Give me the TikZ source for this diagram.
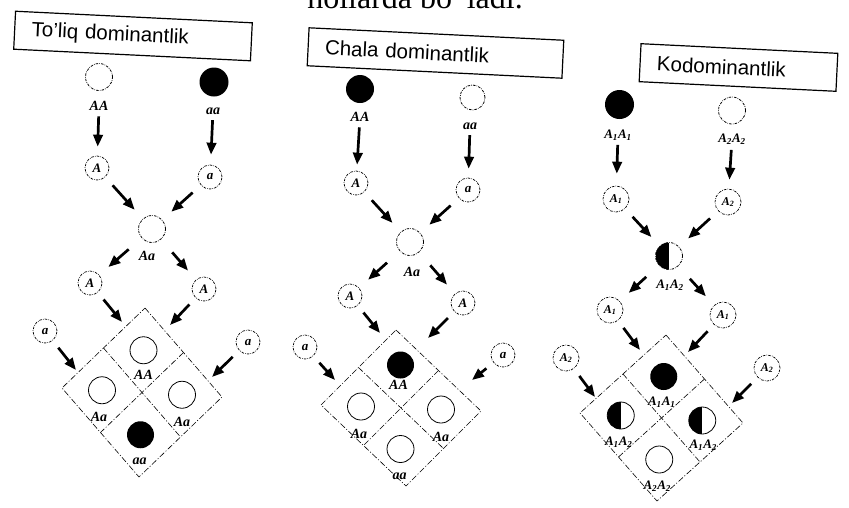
\documentclass[tikz,border=0pt]{standalone}
\usepackage{fontspec}
\setsansfont{Liberation Sans}
\newfontfamily\serifhead{Liberation Serif}
\usetikzlibrary{arrows.meta,calc}

\newcommand\sub[1]{\textsubscript{#1}}

\tikzset{
  headbox/.style={draw, line width=1.2pt, font=\sffamily\fontsize{20.5}{22}\selectfont,
    inner xsep=17pt, inner ysep=0pt, minimum height=38pt, align=left, rotate=-2.8},
  gfont/.style={font=\serifhead\bfseries\itshape\fontsize{#1}{#1}\selectfont},
  lbl/.style={gfont=14, inner sep=0.5pt},
  lbls/.style={gfont=13, inner sep=0.5pt},
  dotdash/.style={dash pattern=on 2.5pt off 1.2pt on 0.6pt off 1.2pt},
  gam/.style={circle, draw, line width=0.7pt, dotdash, minimum size=24pt, inner sep=0pt,
    gfont=13},
  gamw/.style={gam, minimum size=26pt, gfont=12},
  openp/.style={circle, draw, line width=0.8pt, dotdash, minimum size=27pt, inner sep=0pt},
  fullp/.style={circle, fill=black, minimum size=29pt, inner sep=0pt},
  cellopen/.style={circle, draw, line width=0.8pt, minimum size=27pt, inner sep=0pt},
  cellfull/.style={circle, fill=black, minimum size=27pt, inner sep=0pt},
  halfleft/.style={path picture={\fill[black] (path picture bounding box.north)
    rectangle (path picture bounding box.south west);}},
  cellhalf/.style={cellopen, halfleft},
  arr/.style={line width=2.7pt, -{Triangle[length=12pt,width=9.5pt]}},
  diagin/.style={shorten <=11pt, shorten >=12pt},
  diagout/.style={shorten <=17pt, shorten >=12pt},
  toedge/.style={shorten <=9pt},
  punnett/.style={line width=0.6pt, dash pattern=on 6pt off 2pt on 1pt off 2pt},
}

% 2x2 Punnett square drawn as a diamond: #1 name prefix, #2 top, #3 left, #4 right vertex
\newcommand\punnettsq[4]{%
  \coordinate (#1T) at #2;
  \coordinate (#1L) at #3;
  \coordinate (#1R) at #4;
  \coordinate (#1B) at ($(#1L)+(#1R)-(#1T)$);
  \draw[punnett] (#1T) -- (#1R) -- (#1B) -- (#1L) -- cycle;
  \draw[punnett] ($(#1T)!0.5!(#1L)$) -- ($(#1R)!0.5!(#1B)$);
  \draw[punnett] ($(#1T)!0.5!(#1R)$) -- ($(#1L)!0.5!(#1B)$);
  \coordinate (#1ct) at ($0.5*(#1T)+0.25*(#1L)+0.25*(#1R)$);
  \coordinate (#1cl) at ($0.5*(#1L)+0.25*(#1T)+0.25*(#1B)$);
  \coordinate (#1cr) at ($0.5*(#1R)+0.25*(#1T)+0.25*(#1B)$);
  \coordinate (#1cb) at ($0.5*(#1B)+0.25*(#1L)+0.25*(#1R)$);
}

\begin{document}
\begin{tikzpicture}[x=1pt,y=-1pt]
\useasboundingbox (0,0) rectangle (849,507);
\clip (0,0) rectangle (849,507);

% running text line above the figure (only its lower part lies on the page)
\node[anchor=base east, font=\serifhead\fontsize{32}{32}\selectfont, inner sep=0pt]
  (topline) at (523,8) {hollarda bo\kern4pt’ladi.};

% ---------------- To'liq dominantlik ----------------
\node[headbox, text width=203pt] (t1) at (133,36) {To'liq dominantlik};
\node[openp] (p1m) at (99,77) {};
\node[fullp] (p1f) at (214,82) {};
\node[lbl] (l1m) at (99,106) {AA};
\node[lbl] (l1f) at (213,111) {aa};
\node[gam] (g1a) at (97,168) {A};
\node[gam] (g1b) at (210,177) {a};
\node[openp] (f1) at (152,229) {};
\node[lbl] (l1h) at (147,256) {Aa};
\node[gam] (g1c) at (90,283) {A};
\node[gam] (g1d) at (204,289) {A};
\node[gam] (g1e) at (45,331) {a};
\node[gam] (g1g) at (248,342) {a};

\draw[arr, shorten <=5pt, shorten >=9pt] (l1m) -- (g1a);
\draw[arr, shorten <=5pt, shorten >=10pt] (l1f) -- (g1b);
\draw[arr, diagin] (g1a) -- (f1);
\draw[arr, diagin] (g1b) -- (f1);
\draw[arr, diagout] (f1) -- (g1c);
\draw[arr, diagout] (f1) -- (g1d);

\punnettsq{q1}{(145,308)}{(62,388)}{(222,397)}
\coordinate (q1a) at (122,322);
\coordinate (q1b) at (170,325);
\coordinate (q1c) at (76,370);
\coordinate (q1d) at (212,377);
\draw[arr, toedge] (g1c) -- (q1a);
\draw[arr, toedge] (g1d) -- (q1b);
\draw[arr, toedge] (g1e) -- (q1c);
\draw[arr, toedge] (g1g) -- (q1d);

\node[cellopen] (k1t) at (q1ct) {};
\node[cellopen] (k1l) at (q1cl) {};
\node[cellopen] (k1r) at (q1cr) {};
\node[cellfull] (k1b) at (q1cb) {};
\node[lbl] (m1t) at ($(k1t)+(0,25)$) {AA};
\node[lbl] (m1l) at ($(k1l)+(-3,27)$) {Aa};
\node[lbl] (m1r) at ($(k1r)+(0,27)$) {Aa};
\node[lbl] (m1b) at ($(k1b)+(-1,27)$) {aa};

% ---------------- Chala dominantlik ----------------
\node[headbox, text width=221pt] (t2) at (435.5,53) {Chala dominantlik};
\node[fullp, minimum size=28pt] (p2m) at (360,89) {};
\node[openp, minimum size=25pt] (p2f) at (472.5,97.5) {};
\node[lbl] (l2m) at (360,117) {AA};
\node[lbl] (l2f) at (470,126) {aa};
\node[gam] (g2a) at (356,183) {A};
\node[gam] (g2b) at (468,190) {a};
\node[openp] (f2) at (410,242) {};
\node[lbl] (l2h) at (412,272) {Aa};
\node[gam] (g2c) at (350,296) {A};
\node[gam] (g2d) at (463,303) {A};
\node[gam] (g2e) at (305,347) {a};
\node[gam] (g2g) at (503,355) {a};

\draw[arr, shorten <=5pt, shorten >=6pt] (l2m) -- (g2a);
\draw[arr, shorten <=5pt, shorten >=9pt] (l2f) -- (g2b);
\draw[arr, diagin] (g2a) -- (f2);
\draw[arr, diagin] (g2b) -- (f2);
\draw[arr, diagout] (f2) -- (g2c);
\draw[arr, diagout] (f2) -- (g2d);

\punnettsq{q2}{(396,330)}{(321,405)}{(481,411)}
\coordinate (q2a) at (380,333);
\coordinate (q2b) at (428,338);
\coordinate (q2c) at (335,380);
\coordinate (q2d) at (472,380);
\draw[arr, toedge] (g2c) -- (q2a);
\draw[arr, toedge] (g2d) -- (q2b);
\draw[arr, toedge] (g2e) -- (q2c);
\draw[arr, toedge] (g2g) -- (q2d);

\node[cellfull] (k2t) at ($(q2ct)+(2,-4)$) {};
\node[cellopen] (k2l) at (q2cl) {};
\node[cellopen] (k2r) at (q2cr) {};
\node[cellopen] (k2b) at ($(q2cb)+(-3,2)$) {};
\node[lbl] (m2t) at ($(k2t)+(-2,20)$) {AA};
\node[lbl] (m2l) at ($(k2l)+(-2,27)$) {Aa};
\node[lbl] (m2r) at ($(k2r)+(0,27)$) {Aa};
\node[lbl] (m2b) at ($(k2b)+(-1,27)$) {aa};

% ---------------- Kodominantlik ----------------
\node[headbox, text width=163pt] (t3) at (738.5,67.5) {Kodominantlik};
\node[fullp] (p3m) at (619.5,104.5) {};
\node[openp, minimum size=27pt] (p3f) at (732,110.5) {};
\node[lbls] (l3m) at (618,135) {A\sub{1}A\sub{1}};
\node[lbls] (l3f) at (732,139) {A\sub{2}A\sub{2}};
\node[gamw] (g3a) at (616,199) {A\sub{1}};
\node[gamw] (g3b) at (728,202) {A\sub{2}};
\node[openp, halfleft] (f3) at (669,256) {};
\node[lbls] (l3h) at (670,285) {A\sub{1}A\sub{2}};
\node[gamw] (g3c) at (610,310) {A\sub{1}};
\node[gamw] (g3d) at (723,315) {A\sub{1}};
\node[gamw] (g3e) at (566,358) {A\sub{2}};
\node[gamw] (g3g) at (767,368) {A\sub{2}};

\draw[arr, shorten <=4pt, shorten >=12pt] (l3m) -- (g3a);
\draw[arr, shorten <=5pt, shorten >=9pt] (l3f) -- (g3b);
\draw[arr, diagin] (g3a) -- (f3);
\draw[arr, diagin] (g3b) -- (f3);
\draw[arr, diagout] (f3) -- (g3c);
\draw[arr, diagout] (f3) -- (g3d);

\punnettsq{q3}{(666,335)}{(580,413)}{(743,423)}
\coordinate (q3a) at (640,350);
\coordinate (q3b) at (688,352);
\coordinate (q3c) at (595,397);
\coordinate (q3d) at (732,403);
\draw[arr, toedge] (g3c) -- (q3a);
\draw[arr, toedge] (g3d) -- (q3b);
\draw[arr, toedge] (g3e) -- (q3c);
\draw[arr, toedge] (g3g) -- (q3d);

\node[cellfull] (k3t) at (q3ct) {};
\node[cellhalf] (k3l) at (q3cl) {};
\node[cellhalf] (k3r) at (q3cr) {};
\node[cellopen] (k3b) at (q3cb) {};
\node[lbls] (m3t) at ($(k3t)+(-2,26)$) {A\sub{1}A\sub{1}};
\node[lbls] (m3l) at ($(k3l)+(-2,27)$) {A\sub{1}A\sub{2}};
\node[lbls] (m3r) at ($(k3r)+(1,25)$) {A\sub{1}A\sub{2}};
\node[lbls] (m3b) at ($(k3b)+(-2,27)$) {A\sub{2}A\sub{2}};
\end{tikzpicture}
\end{document}
